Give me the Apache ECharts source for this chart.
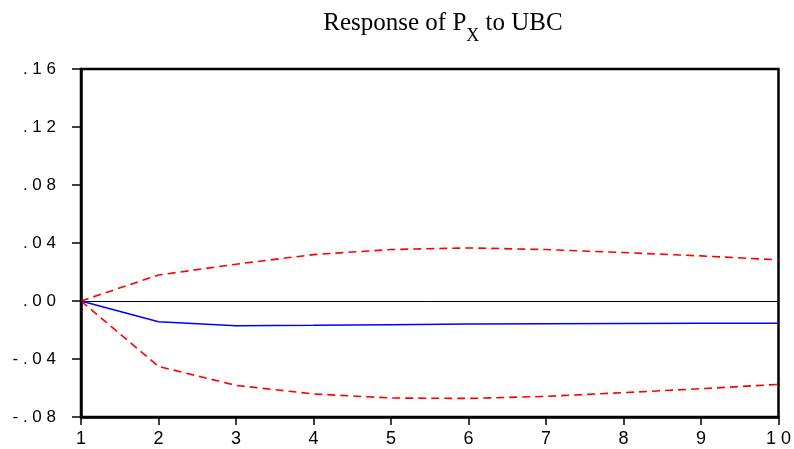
<!DOCTYPE html>
<html>
<head>
<meta charset="utf-8">
<script src="https://cdn.jsdelivr.net/npm/echarts@6/dist/echarts.min.js"></script>
<style>
	html, body { margin: 0; padding: 0; background: #fff; }
	#chart { width: 794px; height: 449px; }
</style>
</head>
<body>
<div id="chart"></div>
<script>
// 期数
var periods = ['1', '2', '3', '4', '5', '6', '7', '8', '9', '10'];
// 脉冲响应
var response = [0, -0.0143, -0.0170, -0.0168, -0.0163, -0.0159, -0.0157, -0.0155, -0.0154, -0.0154];
// 上下置信带
var upper = [0, 0.0179, 0.0254, 0.0320, 0.0355, 0.0366, 0.0355, 0.0334, 0.0311, 0.0284];
var lower = [0, -0.0451, -0.0582, -0.0641, -0.0669, -0.0672, -0.0658, -0.0632, -0.0605, -0.0575];

// 字符之间加空格，模仿原图的字距
function spaced(s){ return s.split('').join(' '); }

function yLabel(v){
	var s = Math.abs(v).toFixed(2).replace(/^0/, '');
	return spaced((v < -1e-9 ? '-' : '') + s);
}

var chart = echarts.init(document.getElementById('chart'));
chart.setOption({
	animation: false,
	title: {
		text: '{n|Response of P}{s|X}{n| to UBC}',
		left: 438, top: 6, textAlign: 'center',
		textStyle: {
			fontWeight: 'normal',
			rich: {
				n: { fontFamily: 'Liberation Serif', fontSize: 25, fontWeight: 'normal', color: '#000' },
				s: { fontFamily: 'Liberation Serif', fontSize: 18, fontWeight: 'normal', color: '#000', verticalAlign: 'bottom', padding: [0, 0, -9, 0] }
			}
		}
	},
	grid: {
		left: 81, right: 14, top: 69, bottom: 32,
		show: true, borderColor: '#000', borderWidth: 2.5, backgroundColor: '#fff'
	},
	xAxis: {
		type: 'category',
		data: periods,
		boundaryGap: false,
		axisLine: { onZero: false, lineStyle: { color: '#000', width: 2.5 } },
		axisTick: { length: 8, lineStyle: { color: '#000', width: 1.5 } },
		axisLabel: {
			margin: 13, color: '#000', fontFamily: 'Liberation Sans', fontSize: 18,
			formatter: function(v){ return spaced(v); }
		},
		splitLine: { show: false }
	},
	yAxis: {
		type: 'value',
		min: -0.08, max: 0.16, interval: 0.04,
		axisLine: { show: true, lineStyle: { color: '#000', width: 2.5 } },
		axisTick: { show: true, length: 9, lineStyle: { color: '#000', width: 1.5 } },
		axisLabel: {
			margin: 25, color: '#000', fontFamily: 'Liberation Sans', fontSize: 17,
			formatter: yLabel
		},
		splitLine: { show: false }
	},
	series: [
		{
			type: 'line', data: upper, symbol: 'none',
			lineStyle: { color: '#ff0000', width: 1.6, type: [8, 5] },
			z: 3
		},
		{
			type: 'line', data: lower, symbol: 'none',
			lineStyle: { color: '#ff0000', width: 1.6, type: [8, 5] },
			z: 3
		},
		{
			type: 'line', data: response, symbol: 'none',
			lineStyle: { color: '#0000ff', width: 1.5 },
			markLine: {
				silent: true, symbol: 'none', label: { show: false },
				lineStyle: { color: '#000', width: 1, type: 'solid' },
				data: [{ yAxis: 0 }]
			},
			z: 4
		}
	]
});
</script>
</body>
</html>
